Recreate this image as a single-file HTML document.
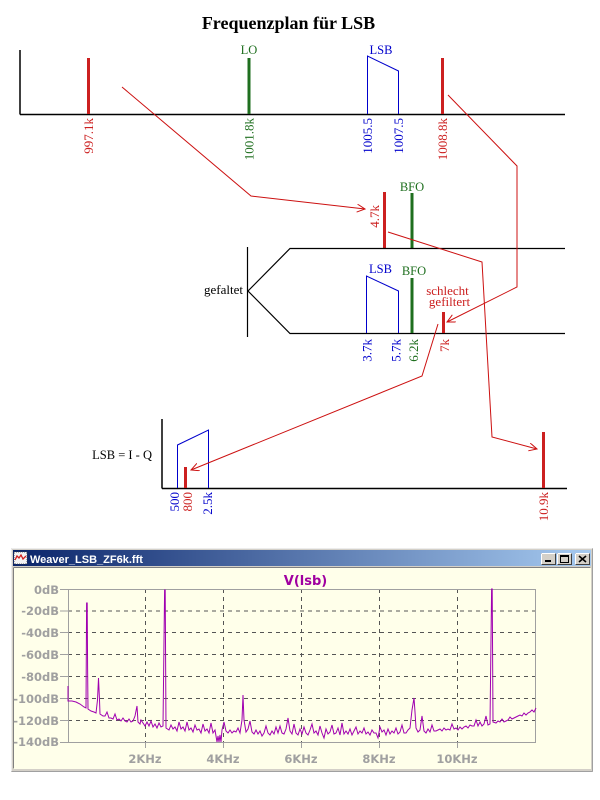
<!DOCTYPE html>
<html><head><meta charset="utf-8"><style>
html,body{margin:0;padding:0;background:#fff;width:600px;height:800px;overflow:hidden}
svg{display:block}
.s{font-family:"Liberation Serif",serif}
.w{font-family:"DejaVu Sans",sans-serif;font-weight:bold}
</style></head><body>
<svg width="600" height="800" viewBox="0 0 600 800" xmlns="http://www.w3.org/2000/svg">
<defs>
<marker id="ar" markerWidth="10" markerHeight="10" refX="8" refY="4" orient="auto" markerUnits="userSpaceOnUse">
<path d="M0,0 L8,4 L0,8" fill="none" stroke="#cc1010" stroke-width="1"/>
</marker>
<linearGradient id="tb" x1="0" y1="0" x2="1" y2="0">
<stop offset="0" stop-color="#0a246a"/><stop offset="1" stop-color="#a6caf0"/>
</linearGradient>
</defs>

<!-- Title -->
<text x="288.5" y="29" class="s" font-size="18" font-weight="bold" text-anchor="middle" fill="#000">Frequenzplan für LSB</text>

<!-- Top spectrum -->
<line x1="20" y1="50" x2="20" y2="114.5" stroke="#000" stroke-width="1.5"/>
<line x1="20" y1="114.5" x2="565" y2="114.5" stroke="#000" stroke-width="1.5"/>
<line x1="88.5" y1="58" x2="88.5" y2="114" stroke="#cc2020" stroke-width="3"/>
<line x1="249" y1="58" x2="249" y2="114" stroke="#1f6f1f" stroke-width="3"/>
<polyline points="367.5,114 367.5,56 398.5,71 398.5,114" fill="none" stroke="#0000cc" stroke-width="1"/>
<line x1="442.5" y1="58" x2="442.5" y2="114" stroke="#cc2020" stroke-width="3"/>
<text x="249" y="54" class="s" font-size="12.5" text-anchor="middle" fill="#1f6f1f">LO</text>
<text x="381" y="54" class="s" font-size="12.5" text-anchor="middle" fill="#0000cc">LSB</text>
<g class="s" font-size="13" text-anchor="end">
<text transform="translate(93,118) rotate(-90)" fill="#cc2020">997.1k</text>
<text transform="translate(253.5,118) rotate(-90)" fill="#1f6f1f">1001.8k</text>
<text transform="translate(372,118) rotate(-90)" fill="#0000cc">1005.5</text>
<text transform="translate(403,118) rotate(-90)" fill="#0000cc">1007.5</text>
<text transform="translate(447,118) rotate(-90)" fill="#cc2020">1008.8k</text>
</g>

<!-- Middle spectrum -->
<line x1="384.5" y1="192" x2="384.5" y2="248" stroke="#cc2020" stroke-width="3"/>
<line x1="412" y1="193" x2="412" y2="248" stroke="#1f6f1f" stroke-width="3"/>
<text x="412" y="191" class="s" font-size="12.5" text-anchor="middle" fill="#1f6f1f">BFO</text>
<text transform="translate(379,205) rotate(-90)" class="s" font-size="13" text-anchor="end" fill="#cc2020">4.7k</text>

<polyline points="565,248.5 290,248.5 248,291 290,333.5 565,333.5" fill="none" stroke="#000" stroke-width="1.2"/>
<line x1="247.5" y1="247" x2="247.5" y2="337" stroke="#000" stroke-width="1.2"/>
<text x="243" y="294" class="s" font-size="13" text-anchor="end" fill="#000">gefaltet</text>

<polyline points="366.5,333 366.5,276 398.5,291 398.5,333" fill="none" stroke="#0000cc" stroke-width="1"/>
<text x="380.5" y="273" class="s" font-size="12.5" text-anchor="middle" fill="#0000cc">LSB</text>
<line x1="412" y1="278" x2="412" y2="333" stroke="#1f6f1f" stroke-width="3"/>
<text x="414" y="275" class="s" font-size="12.5" text-anchor="middle" fill="#1f6f1f">BFO</text>
<text x="447.5" y="295" class="s" font-size="13" text-anchor="middle" fill="#cc2020">schlecht</text>
<text x="449.5" y="306" class="s" font-size="13" text-anchor="middle" fill="#cc2020">gefiltert</text>
<line x1="443.5" y1="312" x2="443.5" y2="333" stroke="#cc2020" stroke-width="3"/>
<g class="s" font-size="13" text-anchor="end">
<text transform="translate(371.5,339) rotate(-90)" fill="#0000cc">3.7k</text>
<text transform="translate(400.5,339) rotate(-90)" fill="#0000cc">5.7k</text>
<text transform="translate(418,339) rotate(-90)" fill="#1f6f1f">6.2k</text>
<text transform="translate(449,339) rotate(-90)" fill="#cc2020">7k</text>
</g>

<!-- Bottom baseband -->
<text x="152" y="459" class="s" font-size="12.5" text-anchor="end" fill="#000">LSB = I - Q</text>
<line x1="162" y1="419" x2="162" y2="488.5" stroke="#000" stroke-width="1.5"/>
<line x1="162" y1="488.5" x2="567" y2="488.5" stroke="#000" stroke-width="1.5"/>
<polyline points="177.5,488 177.5,445 208.5,430 208.5,488" fill="none" stroke="#0000cc" stroke-width="1"/>
<line x1="185.5" y1="467" x2="185.5" y2="488" stroke="#cc2020" stroke-width="3"/>
<line x1="543.5" y1="432" x2="543.5" y2="488" stroke="#cc2020" stroke-width="3"/>
<g class="s" font-size="13" text-anchor="end">
<text transform="translate(179,492) rotate(-90)" fill="#0000cc">500</text>
<text transform="translate(192,492) rotate(-90)" fill="#cc2020">800</text>
<text transform="translate(212,492) rotate(-90)" fill="#0000cc">2.5k</text>
<text transform="translate(548,492) rotate(-90)" fill="#cc2020">10.9k</text>
</g>

<!-- Red arrows -->
<g fill="none" stroke="#cc1010" stroke-width="1">
<polyline points="122,87 251,196 365,209" marker-end="url(#ar)"/>
<polyline points="448,95 517,166 517,287 447,322" marker-end="url(#ar)"/>
<polyline points="388,232 482,262 492,437 537,449" marker-end="url(#ar)"/>
<polyline points="438,324 422,376 191,470" marker-end="url(#ar)"/>
</g>

<!-- Window -->
<rect x="11" y="548" width="582" height="224" fill="#d4d0c8"/>
<line x1="11.5" y1="548.5" x2="592.5" y2="548.5" stroke="#ececec"/>
<line x1="11.5" y1="548.5" x2="11.5" y2="771.5" stroke="#ececec"/>
<line x1="592.5" y1="548.5" x2="592.5" y2="771.5" stroke="#a0a0a0"/>
<line x1="11.5" y1="771.5" x2="592.5" y2="771.5" stroke="#a0a0a0"/>
<rect x="13" y="550" width="578" height="16" fill="url(#tb)"/>
<!-- icon -->
<rect x="14" y="552" width="13" height="12" fill="#f4f4f4" stroke="#404040" stroke-width="0.8" stroke-dasharray="1,1"/>
<polyline points="15,560 17,556 19,558 21,555 23,559 26,556" fill="none" stroke="#d02020" stroke-width="1.3"/>
<text x="30" y="563" font-family="Liberation Sans, sans-serif" font-weight="bold" font-size="11" fill="#fff">Weaver_LSB_ZF6k.fft</text>
<!-- buttons -->
<g stroke-width="1">
<rect x="541.5" y="553.5" width="14" height="11" fill="#d4d0c8" stroke="#404040"/>
<line x1="541.5" y1="553.5" x2="555.5" y2="553.5" stroke="#fff"/><line x1="541.5" y1="553.5" x2="541.5" y2="564.5" stroke="#fff"/>
<rect x="545" y="560" width="6" height="2" fill="#000"/>
<rect x="557.5" y="553.5" width="14" height="11" fill="#d4d0c8" stroke="#404040"/>
<line x1="557.5" y1="553.5" x2="571.5" y2="553.5" stroke="#fff"/><line x1="557.5" y1="553.5" x2="557.5" y2="564.5" stroke="#fff"/>
<rect x="560.5" y="555.5" width="8" height="7" fill="none" stroke="#000"/>
<line x1="560.5" y1="556.5" x2="568.5" y2="556.5" stroke="#000"/>
<rect x="575.5" y="553.5" width="14" height="11" fill="#d4d0c8" stroke="#404040"/>
<line x1="575.5" y1="553.5" x2="589.5" y2="553.5" stroke="#fff"/><line x1="575.5" y1="553.5" x2="575.5" y2="564.5" stroke="#fff"/>
<path d="M579,556 L586,562 M586,556 L579,562" stroke="#000" stroke-width="1.6"/>
</g>
<!-- client -->
<rect x="13" y="567" width="578" height="202" fill="#ffffea"/>
<line x1="13.5" y1="567.5" x2="590.5" y2="567.5" stroke="#808080"/>
<line x1="13.5" y1="567.5" x2="13.5" y2="768.5" stroke="#808080"/>

<text x="305.5" y="585" class="w" font-size="13" text-anchor="middle" fill="#a000a0">V(lsb)</text>

<!-- grid -->
<g stroke="#555" stroke-width="1" stroke-dasharray="4,4">
<line x1="68" y1="611" x2="536" y2="611"/>
<line x1="68" y1="632.5" x2="536" y2="632.5"/>
<line x1="68" y1="654.5" x2="536" y2="654.5"/>
<line x1="68" y1="676.5" x2="536" y2="676.5"/>
<line x1="68" y1="698.5" x2="536" y2="698.5"/>
<line x1="68" y1="720.5" x2="536" y2="720.5"/>
<line x1="145.5" y1="589" x2="145.5" y2="742"/>
<line x1="223.5" y1="589" x2="223.5" y2="742"/>
<line x1="301.5" y1="589" x2="301.5" y2="742"/>
<line x1="379.5" y1="589" x2="379.5" y2="742"/>
<line x1="457.5" y1="589" x2="457.5" y2="742"/>
</g>
<rect x="68.5" y="589.5" width="467" height="153" fill="none" stroke="#a0a0a0"/>
<g stroke="#a0a0a0">
<line x1="60" y1="589.5" x2="68" y2="589.5"/><line x1="60" y1="611" x2="68" y2="611"/>
<line x1="60" y1="632.5" x2="68" y2="632.5"/><line x1="60" y1="654.5" x2="68" y2="654.5"/>
<line x1="60" y1="676.5" x2="68" y2="676.5"/><line x1="60" y1="698.5" x2="68" y2="698.5"/>
<line x1="60" y1="720.5" x2="68" y2="720.5"/><line x1="60" y1="742.5" x2="68" y2="742.5"/>
<line x1="145.5" y1="742" x2="145.5" y2="748"/><line x1="223.5" y1="742" x2="223.5" y2="748"/>
<line x1="301.5" y1="742" x2="301.5" y2="748"/><line x1="379.5" y1="742" x2="379.5" y2="748"/>
<line x1="457.5" y1="742" x2="457.5" y2="748"/>
</g>
<g class="w" font-size="11.5" fill="#a0a0a0" text-anchor="end">
<text x="59" y="594">0dB</text>
<text x="59" y="615">-20dB</text>
<text x="59" y="637">-40dB</text>
<text x="59" y="659">-60dB</text>
<text x="59" y="681">-80dB</text>
<text x="59" y="703">-100dB</text>
<text x="59" y="725">-120dB</text>
<text x="59" y="746">-140dB</text>
</g>
<g class="w" font-size="11.5" fill="#a0a0a0" text-anchor="middle">
<text x="145" y="763">2KHz</text>
<text x="223" y="763">4KHz</text>
<text x="301" y="763">6KHz</text>
<text x="379" y="763">8KHz</text>
<text x="457" y="763">10KHz</text>
</g>

<!-- trace -->
<polyline fill="none" stroke="#a000b0" stroke-width="1" points="68,686 68,701 72,701 76,702 80,704 84,707 86,708 86.6,603 87.2,603 87.6,668 88,709 91,711 94,712 96,713 97.5,700 98.5,678 99.5,700 100,714 103,716 105,716 107,712 109,718 111,718 113,719 115,714 117,720 119,719 121,721 123,718 125,721 127,722 129,719 131,722 133,721 135,716 137,706 138,722 140,724 141,720 143,723 145,726 147,722 149,726 151,721 153,727 155,724 157,728 159,723 161,727 163,726 164.6,590 165.2,590 166,728 169,730 171,725 173,729 175,727 177,731 179,722 181,729 183,727 185,731 187,722 189,730 191,728 193,732 195,725 197,730 199,729 201,733 203,724 205,731 207,729 209,733 211,723 213,733 215,730 217,742 218,736 219,742 220,735 221,742 222,730 224,722 226,731 228,733 230,730 232,733 234,731 236,732 238,728 240,733 242,720 243,695 244,720 246,732 248,729 250,721 252,732 254,734 256,730 258,734 260,731 262,736 264,733 266,726 268,733 270,735 272,731 274,734 276,727 278,733 280,726 282,733 284,734 286,729 288,718 290,731 292,734 294,724 296,733 298,735 300,729 302,734 304,727 306,733 308,735 310,730 312,724 314,733 316,731 318,735 320,726 322,733 324,738 326,729 328,734 330,732 332,725 334,734 336,733 338,728 340,735 342,723 344,734 346,731 348,734 350,729 352,735 354,731 356,727 358,734 360,731 362,733 364,728 366,734 368,732 370,735 372,730 374,733 376,733 378,738 380,727 382,732 384,730 386,735 388,729 390,734 392,731 394,733 396,728 398,734 400,732 402,725 404,733 406,733 408,730 410,728 412,710 414,698 415,712 416,728 418,732 420,730 422,716 424,731 426,733 428,729 430,732 432,725 434,731 436,731 438,730 440,729 442,731 444,728 446,730 448,729 450,730 452,724 454,729 456,728 458,730 460,727 462,729 464,727 466,726 468,728 470,725 472,726 474,726 476,720 478,726 480,722 482,726 484,724 486,716 488,725 490,724 491.6,589 492.2,589 493,722 496,723 498,721 500,722 502,719 504,722 506,721 508,720 510,717 512,719 514,718 516,717 518,716 520,715 522,716 524,713 526,715 528,713 530,712 532,710 534,712 536,708"/>
</svg>
</body></html>
